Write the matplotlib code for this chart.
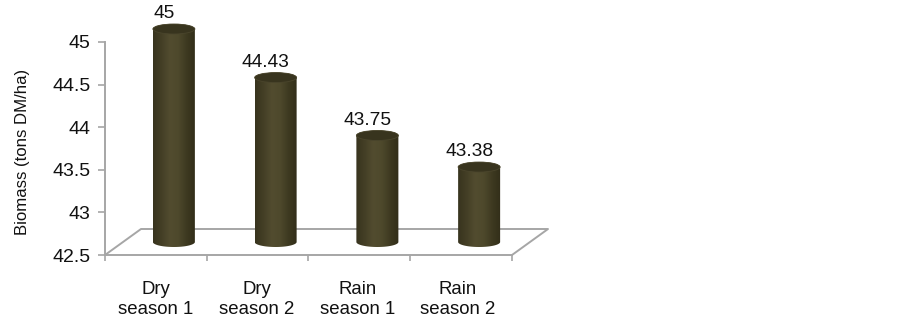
""" Biomass by season, fake 3D cylinder bars
"""
import numpy as np
import matplotlib.pyplot as plt
from matplotlib.colors import LinearSegmentedColormap
from matplotlib.patches import Ellipse, PathPatch
from matplotlib.path import Path
from matplotlib.transforms import ScaledTranslation

categories = ["Dry\nseason 1", "Dry\nseason 2", "Rain\nseason 1", "Rain\nseason 2"]
biomass = [45, 44.43, 43.75, 43.38]
y_ticks = [42.5, 43, 43.5, 44, 44.5, 45]
y_tick_labels = ["42.5", "43", "43.5", "44", "44.5", "45"]
value_labels = ["45", "44.43", "43.75", "43.38"]

W, H = 903, 321
LEFT, RIGHT, TOP, BOTTOM = 105, 512, 42, 255
GREY = "#a6a6a6"

plt.rcParams['font.family'] = ['Liberation Sans', 'DejaVu Sans']

fig = plt.figure(figsize=(W / 100, H / 100), dpi=100)
ax = fig.add_axes([LEFT / W, 1 - BOTTOM / H, (RIGHT - LEFT) / W, (BOTTOM - TOP) / H])

y_min, y_max = y_ticks[0], y_ticks[-1]
px_x = len(categories) / (RIGHT - LEFT)       # data units per pixel
px_y = (y_max - y_min) / (BOTTOM - TOP)

# depth of the fake 3D floor and the bars standing in the middle of it
floor_dx, floor_dy = 36 * px_x, 26 * px_y
bar_dx, bar_dy = floor_dx / 2, floor_dy / 2
half_w, half_h = 21 * px_x, 5 * px_y

ax.plot([0, floor_dx, len(categories) + floor_dx, len(categories)],
        [y_min, y_min + floor_dy, y_min + floor_dy, y_min],
        color=GREY, lw=1.4, clip_on=False, zorder=1)

shade = LinearSegmentedColormap.from_list(
    "cyl", ["#38341e", "#443f26", "#524c2f", "#4e492c", "#3e3a21", "#322e19"])
gradient = np.linspace(0, 1, 64).reshape(1, -1)

t = np.linspace(0, np.pi, 40)
for i, v in enumerate(biomass):
    cx = i + 0.5 + bar_dx
    y0 = y_min + bar_dy
    y1 = v + bar_dy
    # body: bottom half ellipse plus straight sides up to the top
    xs = np.r_[cx - half_w * np.cos(t), cx + half_w * np.cos(t)]
    ys = np.r_[y0 - half_h * np.sin(t), y1 + half_h * np.sin(t)]
    body = PathPatch(Path(np.c_[xs, ys]), transform=ax.transData,
                     facecolor="none", edgecolor="none")
    ax.add_patch(body)
    im = ax.imshow(gradient, cmap=shade, aspect="auto", zorder=2,
                   extent=[cx - half_w, cx + half_w, y0 - half_h, y1 + half_h])
    im.set_clip_box(fig.bbox)     # first bar rises above the axes
    im.set_clip_path(body)
    ax.add_patch(Ellipse((cx, y1), 2 * half_w, 2 * half_h, facecolor="#38341e",
                         edgecolor="#4a452c", lw=0.6, zorder=3, clip_on=False))
    ax.annotate(value_labels[i], (cx, y1), xytext=(-7, 5),
                textcoords="offset points", ha="center", va="bottom",
                fontsize=13.8, color="#111111", annotation_clip=False)

ax.set_xlim(0, len(categories))
ax.set_ylim(y_min, y_max)

for side in ["top", "right"]:
    ax.spines[side].set_visible(False)
for side in ["left", "bottom"]:
    ax.spines[side].set_color(GREY)
    ax.spines[side].set_linewidth(1.4)

ax.set_yticks(y_ticks)
ax.set_yticklabels(y_tick_labels, fontsize=14, color="#111111")
ax.tick_params(axis="y", color=GREY, width=1.2, length=5, pad=5.5)

ax.set_xticks(range(len(categories) + 1))
ax.set_xticklabels([])
ax.tick_params(axis="x", which="major", color=GREY, width=1.2, length=4.5)
ax.set_xticks(np.arange(len(categories)) + 0.5, minor=True)
ax.set_xticklabels(categories, minor=True, fontsize=13.4, color="#111111", linespacing=1.2)
ax.tick_params(axis="x", which="minor", length=0, pad=19)

# the labels drift a little left of the tick centres in the original
for k, lbl in enumerate(ax.get_xticklabels(minor=True)):
    lbl.set_transform(lbl.get_transform() + ScaledTranslation(-k / 100, 0, fig.dpi_scale_trans))

ax.set_ylabel("Biomass (tons DM/ha)", fontsize=12.1, color="#111111")
ax.yaxis.set_label_coords((30 - LEFT) / (RIGHT - LEFT), (BOTTOM - 152) / (BOTTOM - TOP))

fig.savefig("out.png", dpi=100)
